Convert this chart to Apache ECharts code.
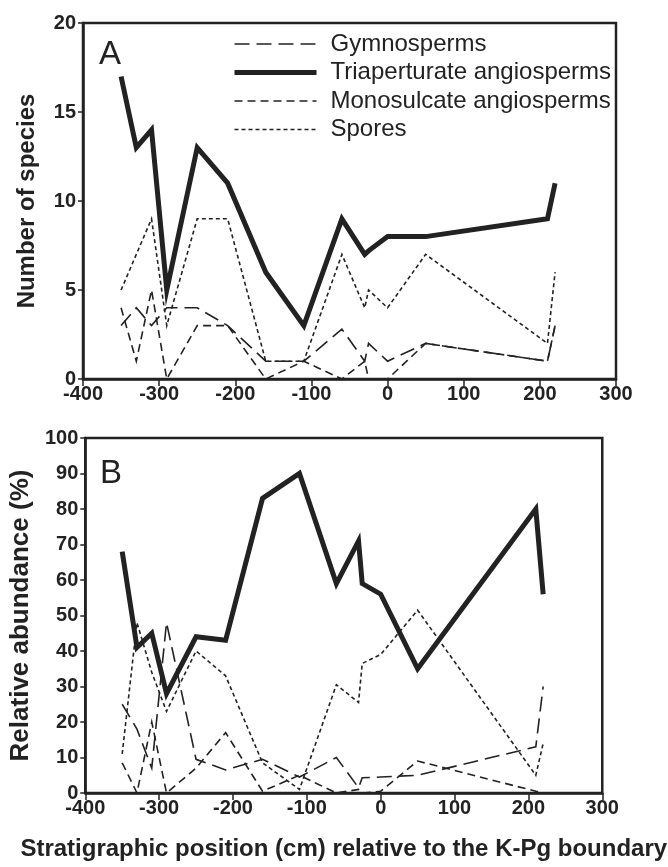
<!DOCTYPE html>
<html>
<head>
<meta charset="utf-8">
<script src="https://cdn.jsdelivr.net/npm/echarts@6/dist/echarts.min.js"></script>
<style>
html,body{margin:0;padding:0;background:#fff;}
#c{width:668px;height:867px;}
</style>
</head>
<body>
<div id="c"></div>
<script>
// Stratigraphic positions (cm) of the samples, shared by both panels
var positions = [-350, -330, -310, -290, -250, -210, -160, -110, -60, -30, -25, 0, 50, 210, 220];

// Panel A: number of species
var gymnospermsA   = [3, 4, 3, 4, 4, 3, 1, 1, 2.8, 1, 2, 1, 2, 1, 3];
var triaperturateA = [17, 13, 14, 5, 13, 11, 6, 3, 9, 7, 7.2, 8, 8, 9, 11];
var monosulcateA   = [4, 1, 5, 0, 3, 3, 0, 1, 0, 1, 0, 0, 2, 1, 3];
var sporesA        = [5, 7, 9, 3, 9, 9, 1, 1, 7, 4, 5, 4, 7, 2, 6];

// Panel B: relative abundance (%)
var gymnospermsB   = [25, 18, 7, 48, 9.5, 6.5, 9.5, 4.5, 10, 1.5, 4.3, 4.5, 5, 13, 30];
var triaperturateB = [68, 41, 45, 28, 44, 43, 83, 90, 59, 71, 59, 56, 35, 80, 56];
var monosulcateB   = [8.5, 0, 20, 0, 7, 17, 0.5, 5, 0, 1, 0, 0.5, 9, 0.5, 0];
var sporesB        = [11, 48, 34, 23, 40, 33, 8.5, 1, 30.5, 25.5, 36.5, 39, 51.5, 5, 14];

var seriesNames = ['Gymnosperms', 'Triaperturate angiosperms', 'Monosulcate angiosperms', 'Spores'];
var xTicks = {min: -400, max: 300, interval: 100};
var yTicksA = {min: 0, max: 20, interval: 5};
var yTicksB = {min: 0, max: 100, interval: 10};
var yTitleA = 'Number of species';
var yTitleB = 'Relative abundance (%)';
var xTitle = 'Stratigraphic position (cm) relative to the K-Pg boundary';

var INK = '#222';
var FONT = '"Liberation Sans", Arial, Helvetica, sans-serif';

function pairs(vals) { return positions.map(function (x, i) { return [x, vals[i]]; }); }

var styles = {
  'Gymnosperms': {width: 1.6, type: [15, 7]},
  'Triaperturate angiosperms': {width: 5, type: 'solid'},
  'Monosulcate angiosperms': {width: 1.6, type: [8, 5]},
  'Spores': {width: 1.6, type: [4, 3]}
};

function mkSeries(name, vals, idx, z) {
  return {
    type: 'line', name: name, data: pairs(vals),
    xAxisIndex: idx, yAxisIndex: idx,
    symbol: 'none', showSymbol: false, z: z,
    lineStyle: {color: INK, width: styles[name].width, type: styles[name].type, join: 'miter', cap: 'butt'},
    itemStyle: {color: INK},
    emphasis: {disabled: true}
  };
}

function xAxis(gi, withName) {
  var a = {
    type: 'value', gridIndex: gi, min: xTicks.min, max: xTicks.max, interval: xTicks.interval,
    axisLine: {show: true, onZero: false, lineStyle: {color: INK, width: 2.5}},
    axisTick: {show: true, inside: false, length: 7, lineStyle: {color: INK, width: 1.5}},
    axisLabel: {margin: 5, fontSize: 20, fontWeight: 'bold', color: INK, fontFamily: FONT},
    splitLine: {show: false}
  };
  if (withName) {
    a.name = xTitle; a.nameLocation = 'middle'; a.nameGap = 44;
    a.nameTextStyle = {fontSize: 24, fontWeight: 'bold', color: INK, fontFamily: FONT};
  }
  return a;
}
function yAxis(gi, t, title, titleSize) {
  return {
    type: 'value', gridIndex: gi, min: t.min, max: t.max, interval: t.interval,
    axisLine: {show: true, onZero: false, lineStyle: {color: INK, width: 2.5}},
    axisTick: {show: true, inside: false, length: 5, lineStyle: {color: INK, width: 1.5}},
    axisLabel: {margin: 7, fontSize: 20, fontWeight: 'bold', color: INK, fontFamily: FONT},
    splitLine: {show: false},
    name: title, nameLocation: 'middle', nameGap: 44,
    nameTextStyle: {fontSize: titleSize, fontWeight: 'bold', color: INK, fontFamily: FONT}
  };
}

var chart = echarts.init(document.getElementById('c'), null, {renderer: 'canvas'});
chart.setOption({
  animation: false,
  backgroundColor: '#fff',
  title: [
    {text: 'A', left: 94, top: 33, textStyle: {fontSize: 33, fontWeight: 'normal', color: INK, fontFamily: FONT}},
    {text: 'B', left: 95, top: 452, textStyle: {fontSize: 33, fontWeight: 'normal', color: INK, fontFamily: FONT}}
  ],
  legend: {
    orient: 'vertical', left: 232, top: 32, padding: 0,
    itemWidth: 82, itemHeight: 14, itemGap: 4.5,
    data: seriesNames,
    selectedMode: false,
    itemStyle: {opacity: 0, borderWidth: 0},
    lineStyle: {width: 'inherit'},
    textStyle: {fontSize: 24, color: INK, fontFamily: FONT, lineHeight: 24, padding: [0, 0, 0, 9]}
  },
  grid: [
    {left: 83, top: 23, width: 533, height: 356, show: true, borderColor: INK, borderWidth: 2.5, containLabel: false},
    {left: 83, top: 438, width: 532, height: 355, show: true, borderColor: INK, borderWidth: 2.5, containLabel: false}
  ],
  xAxis: [xAxis(0, false), xAxis(1, true)],
  yAxis: [yAxis(0, yTicksA, yTitleA, 24), yAxis(1, yTicksB, yTitleB, 26)],
  series: [
    mkSeries('Gymnosperms', gymnospermsA, 0, 2),
    mkSeries('Triaperturate angiosperms', triaperturateA, 0, 5),
    mkSeries('Monosulcate angiosperms', monosulcateA, 0, 3),
    mkSeries('Spores', sporesA, 0, 4),
    mkSeries('Gymnosperms', gymnospermsB, 1, 2),
    mkSeries('Triaperturate angiosperms', triaperturateB, 1, 5),
    mkSeries('Monosulcate angiosperms', monosulcateB, 1, 3),
    mkSeries('Spores', sporesB, 1, 4)
  ]
});
</script>
</body>
</html>
